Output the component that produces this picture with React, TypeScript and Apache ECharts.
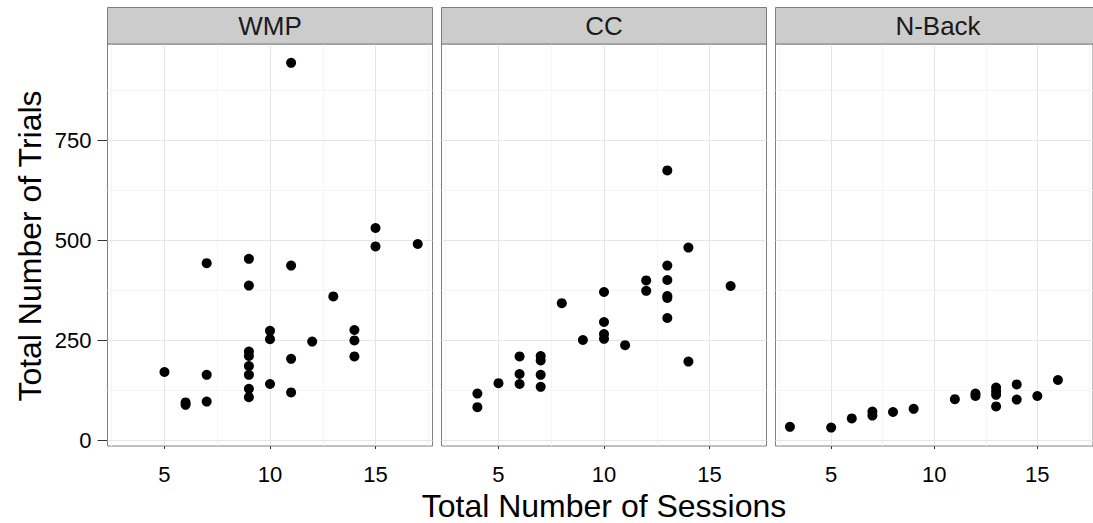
import React, { useEffect, useRef } from "react";
import * as echarts from "echarts";

const panelNames = ["WMP", "CC", "N-Back"];

const wmpPoints: [number, number][] = [
  [5, 170], [6, 94], [6, 88], [7, 442], [7, 163], [7, 96],
  [9, 453], [9, 386], [9, 221], [9, 210], [9, 185], [9, 163], [9, 128], [9, 107],
  [10, 273], [10, 252], [10, 140], [11, 943], [11, 436], [11, 203], [11, 119],
  [12, 246], [13, 359], [14, 275], [14, 249], [14, 209], [15, 530], [15, 484], [17, 490],
];

const ccPoints: [number, number][] = [
  [4, 116], [4, 82], [5, 142], [6, 209], [6, 165], [6, 140],
  [7, 210], [7, 199], [7, 163], [7, 133], [8, 342], [9, 250],
  [10, 370], [10, 295], [10, 265], [10, 253], [11, 237], [12, 399], [12, 373],
  [13, 674], [13, 436], [13, 400], [13, 360], [13, 355], [13, 305],
  [14, 481], [14, 196], [16, 385],
];

const nbackPoints: [number, number][] = [
  [3, 33], [5, 31], [6, 54], [7, 71], [7, 61], [8, 70], [9, 78],
  [11, 102], [12, 116], [12, 110], [13, 131], [13, 122], [13, 113], [13, 84],
  [14, 139], [14, 101], [15, 110], [16, 150],
];

const panelData = [wmpPoints, ccPoints, nbackPoints];

const xTicks = [5, 10, 15];
const xMinor = [2.5, 7.5, 12.5, 17.5];
const yTicks = [0, 250, 500, 750];
const yMinor = [125, 375, 625, 875];
const xRange = [2.3, 17.7];
const yRange = [-15, 990];

export default function App() {
  const ref = useRef<HTMLDivElement>(null);

  useEffect(() => {
    if (!ref.current) return;
    const chart = echarts.init(ref.current, null, { renderer: "svg" });

    const lefts = [107.5, 441.5, 775.5];
    const gw = 325;
    const top = 44;
    const gh = 402;
    const font = "Liberation Sans, Arial, sans-serif";

    const grids = lefts.map((l) => ({
      left: l,
      top,
      width: gw,
      height: gh,
      show: true,
      backgroundColor: "#ffffff",
      borderColor: "#7f7f7f",
      borderWidth: 1,
      containLabel: false,
    }));

    const xAxes = lefts.map((_, i) => ({
      type: "value",
      gridIndex: i,
      min: xRange[0],
      max: xRange[1],
      axisLine: { show: false },
      splitLine: { show: false },
      axisTick: {
        show: true,
        customValues: xTicks,
        length: 9,
        lineStyle: { color: "#333333", width: 1 },
      },
      axisLabel: {
        show: true,
        customValues: xTicks,
        margin: 17,
        fontSize: 22,
        color: "#000000",
        fontFamily: font,
      },
    }));

    const yAxes = lefts.map((_, i) => ({
      type: "value",
      gridIndex: i,
      min: yRange[0],
      max: yRange[1],
      axisLine: { show: false },
      splitLine: { show: false },
      axisTick: {
        show: i === 0,
        customValues: yTicks,
        length: 10,
        lineStyle: { color: "#333333", width: 1 },
      },
      axisLabel: {
        show: i === 0,
        customValues: yTicks,
        margin: 16,
        fontSize: 22,
        color: "#000000",
        fontFamily: font,
      },
    }));

    const gridLineSeries = lefts.map((_, i) => ({
      type: "scatter",
      xAxisIndex: i,
      yAxisIndex: i,
      data: [],
      z: 1,
      silent: true,
      markLine: {
        silent: true,
        symbol: ["none", "none"],
        label: { show: false },
        animation: false,
        data: [
          ...xMinor.map((v) => ({ xAxis: v, lineStyle: { color: "#f5f5f5", width: 1, type: "solid" } })),
          ...yMinor.map((v) => ({ yAxis: v, lineStyle: { color: "#f5f5f5", width: 1, type: "solid" } })),
          ...xTicks.map((v) => ({ xAxis: v, lineStyle: { color: "#e6e6e6", width: 1, type: "solid" } })),
          ...yTicks.map((v) => ({ yAxis: v, lineStyle: { color: "#e6e6e6", width: 1, type: "solid" } })),
        ],
      },
    }));

    const pointSeries = panelData.map((d, i) => ({
      type: "scatter",
      name: panelNames[i],
      xAxisIndex: i,
      yAxisIndex: i,
      data: d,
      symbol: "circle",
      symbolSize: 10,
      itemStyle: { color: "#000000", opacity: 1 },
      z: 5,
    }));

    const graphics: any[] = [];
    lefts.forEach((l, i) => {
      graphics.push({
        type: "rect",
        shape: { x: l, y: 7.5, width: gw, height: 36.5 },
        style: { fill: "#cccccc", stroke: "#7f7f7f", lineWidth: 1 },
        z: 10,
      });
      graphics.push({
        type: "text",
        x: l + gw / 2,
        y: 26,
        style: {
          text: panelNames[i],
          fill: "#1a1a1a",
          font: `26px ${font}`,
          align: "center",
          verticalAlign: "middle",
        },
        z: 11,
      });
    });
    graphics.push({
      type: "text",
      x: 604,
      y: 506,
      style: {
        text: "Total Number of Sessions",
        fill: "#000000",
        font: `32px ${font}`,
        align: "center",
        verticalAlign: "middle",
      },
    });
    graphics.push({
      type: "text",
      x: 30,
      y: 246,
      rotation: Math.PI / 2,
      style: {
        text: "Total Number of Trials",
        fill: "#000000",
        font: `32px ${font}`,
        align: "center",
        verticalAlign: "middle",
      },
    });

    chart.setOption({
      animation: false,
      backgroundColor: "#ffffff",
      grid: grids,
      xAxis: xAxes,
      yAxis: yAxes,
      series: [...gridLineSeries, ...pointSeries],
      graphic: graphics,
    });

    return () => chart.dispose();
  }, []);

  return (
    <div
      ref={ref}
      style={{ position: "fixed", left: 0, top: 0, width: 1093, height: 523 }}
    />
  );
}
